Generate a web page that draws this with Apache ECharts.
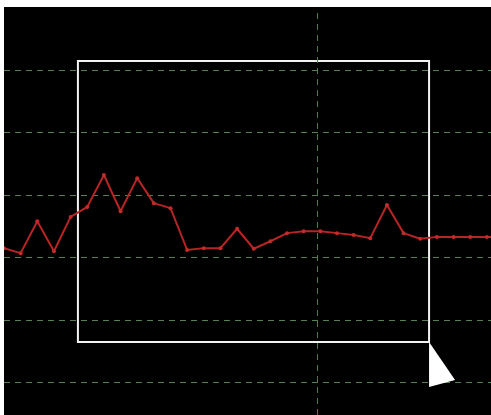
<!DOCTYPE html>
<html>
<head>
<meta charset="utf-8">
<script src="https://cdn.jsdelivr.net/npm/echarts@6/dist/echarts.min.js"></script>
<style>
html,body{margin:0;padding:0;background:#fff;width:491px;height:415px;overflow:hidden;}
#c{position:absolute;left:4px;top:7px;width:487px;height:408px;background:#000;overflow:hidden;}
</style>
</head>
<body>
<div id="c"></div>
<script>
var xIndex = [0,1,2,3,4,5,6,7,8,9,10,11,12,13,14,15,16,17,18,19,20,21,22,23,24,25,26,27,28,29,30];
var values = [2.15,2.07,2.58,2.10,2.65,2.81,3.32,2.74,3.27,2.87,2.79,2.12,2.15,2.15,2.46,2.14,2.26,2.39,2.42,2.42,2.39,2.36,2.31,2.84,2.39,2.30,2.33,2.33,2.33,2.33,2.33];
var cursorX = 18.8;
var boxX = [4.44, 25.53];
var boxY = [0.648, 5.144];

var data = xIndex.map(function(x,i){return [x, values[i]];});
var chart = echarts.init(document.getElementById('c'));
chart.setOption({
  backgroundColor: '#000',
  animation: false,
  grid: {left: 0, right: 0, top: 1, bottom: 0},
  xAxis: {
    type: 'value', min: 0, max: 29.25,
    axisLine: {show: false}, axisTick: {show: false}, axisLabel: {show: false},
    splitLine: {show: false}
  },
  yAxis: {
    type: 'value', min: -0.52, max: 5.992, minInterval: 1, maxInterval: 1,
    axisLine: {show: false}, axisTick: {show: false}, axisLabel: {show: false},
    splitLine: {show: true, showMinLine: false, showMaxLine: false,
      lineStyle: {color: '#567f56', type: [6, 5], width: 1}}
  },
  series: [{
    type: 'line',
    data: data,
    symbol: 'circle',
    symbolSize: 4,
    lineStyle: {color: '#b82424', width: 2},
    itemStyle: {color: '#c42a2a'},
    clip: false,
    markLine: {
      silent: true, symbol: 'none', label: {show: false},
      lineStyle: {color: '#4a7f4a', type: [6, 5], width: 1},
      data: [{xAxis: cursorX}]
    },
    markArea: {
      silent: true,
      itemStyle: {color: 'rgba(0,0,0,0)', borderColor: '#f2f2f2', borderWidth: 2},
      data: [[{coord: [boxX[0], boxY[1]]}, {coord: [boxX[1], boxY[0]]}]]
    },
    markPoint: {
      silent: true,
      symbol: 'path://M0,0 L0,45 L26,38 Z',
      symbolSize: [26, 45],
      symbolOffset: [13, 22.5],
      itemStyle: {color: '#ffffff'},
      label: {show: false},
      data: [{coord: [boxX[1], boxY[0]]}]
    }
  }]
});
</script>
</body>
</html>
